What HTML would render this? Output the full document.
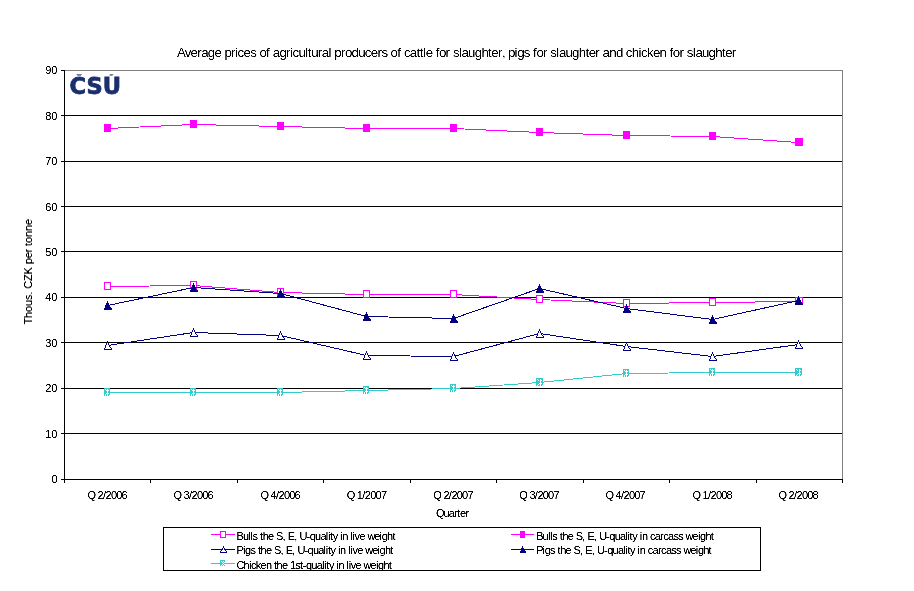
<!DOCTYPE html>
<html lang="en"><head><meta charset="utf-8"><title>Average prices of agricultural producers</title>
<style>html,body{margin:0;padding:0;background:#fff}body{width:914px;height:591px;overflow:hidden}svg{display:block}text{font-family:"Liberation Sans","DejaVu Sans",sans-serif;fill:#000}.s{font-size:11px;filter:url(#th)}.t{font-size:13.3px;filter:url(#tt)}.v{filter:url(#tv)}</style></head><body>
<svg width="914" height="591" viewBox="0 0 914 591">
<rect width="914" height="591" fill="#fff"/>
<defs><filter id="th" x="-5%" y="-5%" width="110%" height="110%" color-interpolation-filters="sRGB"><feComponentTransfer><feFuncA type="linear" slope="2.4" intercept="-0.55"/></feComponentTransfer></filter><filter id="tt" x="-5%" y="-5%" width="110%" height="110%" color-interpolation-filters="sRGB"><feComponentTransfer><feFuncA type="linear" slope="2.2" intercept="-0.6"/></feComponentTransfer></filter><filter id="tv" x="-5%" y="-5%" width="110%" height="110%" color-interpolation-filters="sRGB"><feComponentTransfer><feFuncA type="linear" slope="1.9" intercept="-0.3"/></feComponentTransfer></filter></defs>
<g shape-rendering="crispEdges" fill="none" stroke-width="1">
<path d="M64 70.5H843M842.5 70V480" stroke="#808080"/>
<path d="M64 433.5H842M64 388.5H842M64 342.5H842M64 297.5H842M64 251.5H842M64 206.5H842M64 161.5H842M64 115.5H842" stroke="#000"/>
<path d="M64.5 70V483M61 479.5H843M61 479.5H64M61 433.5H64M61 388.5H64M61 342.5H64M61 297.5H64M61 251.5H64M61 206.5H64M61 161.5H64M61 115.5H64M61 70.5H64M150.5 479V483M237.5 479V483M323.5 479V483M410.5 479V483M496.5 479V483M583.5 479V483M669.5 479V483M756.5 479V483M842.5 479V483" stroke="#000"/>
</g>
<polyline points="107.5,286.5 193.5,285.5 280.5,292.5 366.5,294.5 453.5,294.5 539.5,299.5 626.5,303.5 712.5,302.5 798.5,301.5" fill="none" stroke="#ff00ff" stroke-width="1" shape-rendering="crispEdges"/>
<g shape-rendering="crispEdges">
<rect x="104.5" y="282.5" width="6" height="7" fill="#fff" stroke="#ff00ff" stroke-width="1"/>
<rect x="190.5" y="281.5" width="6" height="7" fill="#fff" stroke="#ff00ff" stroke-width="1"/>
<rect x="277.5" y="288.5" width="6" height="7" fill="#fff" stroke="#ff00ff" stroke-width="1"/>
<rect x="363.5" y="290.5" width="6" height="7" fill="#fff" stroke="#ff00ff" stroke-width="1"/>
<rect x="450.5" y="290.5" width="6" height="7" fill="#fff" stroke="#ff00ff" stroke-width="1"/>
<rect x="536.5" y="295.5" width="6" height="7" fill="#fff" stroke="#ff00ff" stroke-width="1"/>
<rect x="623.5" y="299.5" width="6" height="7" fill="#fff" stroke="#ff00ff" stroke-width="1"/>
<rect x="709.5" y="298.5" width="6" height="7" fill="#fff" stroke="#ff00ff" stroke-width="1"/>
<rect x="795.5" y="297.5" width="7" height="7" fill="#fff" stroke="#ff00ff" stroke-width="1"/>
</g>
<polyline points="107.5,128.5 193.5,124.5 280.5,126.5 366.5,128.5 453.5,128.5 539.5,132.5 626.5,135.5 712.5,136.5 798.5,142.5" fill="none" stroke="#ff00ff" stroke-width="1" shape-rendering="crispEdges"/>
<g shape-rendering="crispEdges">
<rect x="104" y="124" width="7" height="8" fill="#ff00ff"/>
<rect x="190" y="120" width="7" height="8" fill="#ff00ff"/>
<rect x="277" y="122" width="7" height="8" fill="#ff00ff"/>
<rect x="363" y="124" width="7" height="8" fill="#ff00ff"/>
<rect x="450" y="124" width="7" height="8" fill="#ff00ff"/>
<rect x="536" y="128" width="7" height="8" fill="#ff00ff"/>
<rect x="623" y="131" width="7" height="8" fill="#ff00ff"/>
<rect x="709" y="132" width="7" height="8" fill="#ff00ff"/>
<rect x="795" y="138" width="8" height="8" fill="#ff00ff"/>
</g>
<polyline points="107.5,345.5 193.5,332.5 280.5,335.5 366.5,355.5 453.5,356.5 539.5,333.5 626.5,346.5 712.5,356.5 798.5,344.5" fill="none" stroke="#000080" stroke-width="1" shape-rendering="crispEdges"/>
<g shape-rendering="crispEdges">
<path d="M107 341h1v1h-1zM107 342h1v1h-1zM106 343h3v1h-3zM106 344h3v1h-3zM105 345h5v1h-5zM105 346h5v1h-5zM105 347h6v1h-6zM104 348h8v1h-8zM104 349h8v1h-8z" fill="#000080"/><path d="M107 343h1v1h-1zM107 344h1v1h-1zM106 345h3v1h-3zM106 346h3v1h-3zM106 347h4v1h-4zM105 348h6v1h-6z" fill="#fff"/>
<path d="M193 328h1v1h-1zM193 329h1v1h-1zM192 330h3v1h-3zM192 331h3v1h-3zM191 332h5v1h-5zM191 333h5v1h-5zM191 334h6v1h-6zM190 335h8v1h-8zM190 336h8v1h-8z" fill="#000080"/><path d="M193 330h1v1h-1zM193 331h1v1h-1zM192 332h3v1h-3zM192 333h3v1h-3zM192 334h4v1h-4zM191 335h6v1h-6z" fill="#fff"/>
<path d="M280 331h1v1h-1zM280 332h1v1h-1zM279 333h3v1h-3zM279 334h3v1h-3zM278 335h5v1h-5zM278 336h5v1h-5zM278 337h6v1h-6zM277 338h8v1h-8zM277 339h8v1h-8z" fill="#000080"/><path d="M280 333h1v1h-1zM280 334h1v1h-1zM279 335h3v1h-3zM279 336h3v1h-3zM279 337h4v1h-4zM278 338h6v1h-6z" fill="#fff"/>
<path d="M366 351h1v1h-1zM366 352h1v1h-1zM365 353h3v1h-3zM365 354h3v1h-3zM364 355h5v1h-5zM364 356h5v1h-5zM364 357h6v1h-6zM363 358h8v1h-8zM363 359h8v1h-8z" fill="#000080"/><path d="M366 353h1v1h-1zM366 354h1v1h-1zM365 355h3v1h-3zM365 356h3v1h-3zM365 357h4v1h-4zM364 358h6v1h-6z" fill="#fff"/>
<path d="M453 352h1v1h-1zM453 353h1v1h-1zM452 354h3v1h-3zM452 355h3v1h-3zM451 356h5v1h-5zM451 357h5v1h-5zM451 358h6v1h-6zM450 359h8v1h-8zM450 360h8v1h-8z" fill="#000080"/><path d="M453 354h1v1h-1zM453 355h1v1h-1zM452 356h3v1h-3zM452 357h3v1h-3zM452 358h4v1h-4zM451 359h6v1h-6z" fill="#fff"/>
<path d="M539 329h1v1h-1zM539 330h1v1h-1zM538 331h3v1h-3zM538 332h3v1h-3zM537 333h5v1h-5zM537 334h5v1h-5zM537 335h6v1h-6zM536 336h8v1h-8zM536 337h8v1h-8z" fill="#000080"/><path d="M539 331h1v1h-1zM539 332h1v1h-1zM538 333h3v1h-3zM538 334h3v1h-3zM538 335h4v1h-4zM537 336h6v1h-6z" fill="#fff"/>
<path d="M626 342h1v1h-1zM626 343h1v1h-1zM625 344h3v1h-3zM625 345h3v1h-3zM624 346h5v1h-5zM624 347h5v1h-5zM624 348h6v1h-6zM623 349h8v1h-8zM623 350h8v1h-8z" fill="#000080"/><path d="M626 344h1v1h-1zM626 345h1v1h-1zM625 346h3v1h-3zM625 347h3v1h-3zM625 348h4v1h-4zM624 349h6v1h-6z" fill="#fff"/>
<path d="M712 352h1v1h-1zM712 353h1v1h-1zM711 354h3v1h-3zM711 355h3v1h-3zM710 356h5v1h-5zM710 357h5v1h-5zM710 358h6v1h-6zM709 359h8v1h-8zM709 360h8v1h-8z" fill="#000080"/><path d="M712 354h1v1h-1zM712 355h1v1h-1zM711 356h3v1h-3zM711 357h3v1h-3zM711 358h4v1h-4zM710 359h6v1h-6z" fill="#fff"/>
<path d="M798 340h1v1h-1zM798 341h1v1h-1zM797 342h3v1h-3zM797 343h3v1h-3zM796 344h5v1h-5zM796 345h5v1h-5zM796 346h6v1h-6zM795 347h8v1h-8zM795 348h8v1h-8z" fill="#000080"/><path d="M798 342h1v1h-1zM798 343h1v1h-1zM797 344h3v1h-3zM797 345h3v1h-3zM797 346h4v1h-4zM796 347h6v1h-6z" fill="#fff"/>
</g>
<polyline points="107.5,305.5 193.5,287.5 280.5,293.5 366.5,316.5 453.5,318.5 539.5,288.5 626.5,308.5 712.5,319.5 798.5,300.5" fill="none" stroke="#000080" stroke-width="1" shape-rendering="crispEdges"/>
<g shape-rendering="crispEdges">
<path d="M107 301h1v1h-1zM107 302h1v1h-1zM106 303h3v1h-3zM106 304h3v1h-3zM105 305h5v1h-5zM105 306h5v1h-5zM105 307h6v1h-6zM104 308h8v1h-8zM104 309h8v1h-8z" fill="#000080"/>
<path d="M193 283h1v1h-1zM193 284h1v1h-1zM192 285h3v1h-3zM192 286h3v1h-3zM191 287h5v1h-5zM191 288h5v1h-5zM191 289h6v1h-6zM190 290h8v1h-8zM190 291h8v1h-8z" fill="#000080"/>
<path d="M280 289h1v1h-1zM280 290h1v1h-1zM279 291h3v1h-3zM279 292h3v1h-3zM278 293h5v1h-5zM278 294h5v1h-5zM278 295h6v1h-6zM277 296h8v1h-8zM277 297h8v1h-8z" fill="#000080"/>
<path d="M366 312h1v1h-1zM366 313h1v1h-1zM365 314h3v1h-3zM365 315h3v1h-3zM364 316h5v1h-5zM364 317h5v1h-5zM364 318h6v1h-6zM363 319h8v1h-8zM363 320h8v1h-8z" fill="#000080"/>
<path d="M453 314h1v1h-1zM453 315h1v1h-1zM452 316h3v1h-3zM452 317h3v1h-3zM451 318h5v1h-5zM451 319h5v1h-5zM451 320h6v1h-6zM450 321h8v1h-8zM450 322h8v1h-8z" fill="#000080"/>
<path d="M539 284h1v1h-1zM539 285h1v1h-1zM538 286h3v1h-3zM538 287h3v1h-3zM537 288h5v1h-5zM537 289h5v1h-5zM537 290h6v1h-6zM536 291h8v1h-8zM536 292h8v1h-8z" fill="#000080"/>
<path d="M626 304h1v1h-1zM626 305h1v1h-1zM625 306h3v1h-3zM625 307h3v1h-3zM624 308h5v1h-5zM624 309h5v1h-5zM624 310h6v1h-6zM623 311h8v1h-8zM623 312h8v1h-8z" fill="#000080"/>
<path d="M712 315h1v1h-1zM712 316h1v1h-1zM711 317h3v1h-3zM711 318h3v1h-3zM710 319h5v1h-5zM710 320h5v1h-5zM710 321h6v1h-6zM709 322h8v1h-8zM709 323h8v1h-8z" fill="#000080"/>
<path d="M798 296h1v1h-1zM798 297h1v1h-1zM797 298h3v1h-3zM797 299h3v1h-3zM796 300h5v1h-5zM796 301h5v1h-5zM796 302h6v1h-6zM795 303h8v1h-8zM795 304h8v1h-8z" fill="#000080"/>
</g>
<polyline points="107.5,392.5 193.5,392.5 280.5,392.5 366.5,390.5 453.5,388.5 539.5,382.5 626.5,373.5 712.5,372.5 798.5,372.5" fill="none" stroke="#33cccc" stroke-width="1" shape-rendering="crispEdges"/>
<g shape-rendering="crispEdges">
<rect x="104" y="388" width="6" height="8" fill="#33cccc"/><path d="M105 389h1v1h-1zM107 389h1v1h-1zM106 390h1v1h-1zM107 390h1v1h-1zM108 390h1v1h-1zM107 391h1v1h-1zM107 392h1v1h-1zM106 393h1v1h-1zM107 393h1v1h-1zM108 393h1v1h-1zM105 394h1v1h-1zM107 394h1v1h-1zM105 395h1v1h-1zM107 395h1v1h-1zM109 395h1v1h-1z" fill="#fff"/>
<rect x="190" y="388" width="6" height="8" fill="#33cccc"/><path d="M191 389h1v1h-1zM193 389h1v1h-1zM192 390h1v1h-1zM193 390h1v1h-1zM194 390h1v1h-1zM193 391h1v1h-1zM193 392h1v1h-1zM192 393h1v1h-1zM193 393h1v1h-1zM194 393h1v1h-1zM191 394h1v1h-1zM193 394h1v1h-1zM191 395h1v1h-1zM193 395h1v1h-1zM195 395h1v1h-1z" fill="#fff"/>
<rect x="277" y="388" width="6" height="8" fill="#33cccc"/><path d="M278 389h1v1h-1zM280 389h1v1h-1zM279 390h1v1h-1zM280 390h1v1h-1zM281 390h1v1h-1zM280 391h1v1h-1zM280 392h1v1h-1zM279 393h1v1h-1zM280 393h1v1h-1zM281 393h1v1h-1zM278 394h1v1h-1zM280 394h1v1h-1zM278 395h1v1h-1zM280 395h1v1h-1zM282 395h1v1h-1z" fill="#fff"/>
<rect x="363" y="386" width="6" height="8" fill="#33cccc"/><path d="M364 387h1v1h-1zM366 387h1v1h-1zM365 388h1v1h-1zM366 388h1v1h-1zM367 388h1v1h-1zM366 389h1v1h-1zM366 390h1v1h-1zM365 391h1v1h-1zM366 391h1v1h-1zM367 391h1v1h-1zM364 392h1v1h-1zM366 392h1v1h-1zM364 393h1v1h-1zM366 393h1v1h-1zM368 393h1v1h-1z" fill="#fff"/>
<rect x="450" y="384" width="6" height="8" fill="#33cccc"/><path d="M451 385h1v1h-1zM453 385h1v1h-1zM452 386h1v1h-1zM453 386h1v1h-1zM454 386h1v1h-1zM453 387h1v1h-1zM453 388h1v1h-1zM452 389h1v1h-1zM453 389h1v1h-1zM454 389h1v1h-1zM451 390h1v1h-1zM453 390h1v1h-1zM451 391h1v1h-1zM453 391h1v1h-1zM455 391h1v1h-1z" fill="#fff"/>
<rect x="536" y="378" width="7" height="8" fill="#33cccc"/><path d="M537 379h1v1h-1zM540 379h1v1h-1zM538 380h1v1h-1zM540 380h1v1h-1zM541 380h1v1h-1zM540 381h1v1h-1zM540 382h1v1h-1zM539 383h1v1h-1zM540 383h1v1h-1zM541 383h1v1h-1zM538 384h1v1h-1zM540 384h1v1h-1zM537 385h1v1h-1zM540 385h1v1h-1zM542 385h1v1h-1z" fill="#fff"/>
<rect x="623" y="369" width="6" height="8" fill="#33cccc"/><path d="M624 370h1v1h-1zM626 370h1v1h-1zM625 371h1v1h-1zM626 371h1v1h-1zM627 371h1v1h-1zM626 372h1v1h-1zM626 373h1v1h-1zM625 374h1v1h-1zM626 374h1v1h-1zM627 374h1v1h-1zM624 375h1v1h-1zM626 375h1v1h-1zM624 376h1v1h-1zM626 376h1v1h-1zM628 376h1v1h-1z" fill="#fff"/>
<rect x="709" y="368" width="6" height="8" fill="#33cccc"/><path d="M710 369h1v1h-1zM712 369h1v1h-1zM711 370h1v1h-1zM712 370h1v1h-1zM713 370h1v1h-1zM712 371h1v1h-1zM712 372h1v1h-1zM711 373h1v1h-1zM712 373h1v1h-1zM713 373h1v1h-1zM710 374h1v1h-1zM712 374h1v1h-1zM710 375h1v1h-1zM712 375h1v1h-1zM714 375h1v1h-1z" fill="#fff"/>
<rect x="795" y="368" width="7" height="8" fill="#33cccc"/><path d="M796 369h1v1h-1zM799 369h1v1h-1zM797 370h1v1h-1zM799 370h1v1h-1zM800 370h1v1h-1zM799 371h1v1h-1zM799 372h1v1h-1zM798 373h1v1h-1zM799 373h1v1h-1zM800 373h1v1h-1zM797 374h1v1h-1zM799 374h1v1h-1zM796 375h1v1h-1zM799 375h1v1h-1zM801 375h1v1h-1z" fill="#fff"/>
</g>
<clipPath id="lc"><rect x="66" y="74.6" width="60" height="22"/></clipPath>
<text clip-path="url(#lc)" x="69.5" y="93.7" textLength="51.5" lengthAdjust="spacingAndGlyphs" style="font-family:'DejaVu Sans','Liberation Sans',sans-serif;font-weight:bold;font-size:23px;fill:#1b2f6e;stroke:#1b2f6e;stroke-width:.8px">ČSÚ</text>
<text class="t" y="57" x="176.9 184.8 190.6 197.2 201.2 207.8 214.4 221.1 224.4 231.0 235.0 237.6 243.6 250.2 256.2 259.5 266.1 269.4 272.7 279.4 286.0 290.0 292.6 298.6 305.2 307.8 311.2 317.8 321.7 328.4 331.0 334.3 341.0 344.9 351.6 358.2 364.8 370.8 377.4 381.4 387.3 390.6 397.3 400.6 403.9 409.8 416.5 419.8 423.1 425.7 432.4 435.7 439.0 445.6 449.6 452.9 458.9 461.5 468.1 474.8 481.4 488.0 491.3 498.0 501.9 504.6 507.9 514.5 517.2 523.8 529.8 533.1 536.4 543.0 547.0 550.3 556.2 558.9 565.5 572.1 578.8 585.4 588.7 595.3 599.3 602.6 609.2 615.9 622.5 625.8 631.8 638.4 641.0 647.0 653.0 659.6 666.2 669.5 672.8 679.5 683.4 686.7 692.7 695.4 702.0 708.6 715.2 721.9 725.2 731.8">Average prices of agricultural producers of cattle for slaughter, pigs for slaughter and chicken for slaughter</text>
<text class="s" x="57.5" y="482.5" text-anchor="end">0</text>
<text class="s" x="57.5" y="437.5" text-anchor="end">10</text>
<text class="s" x="57.5" y="391.5" text-anchor="end">20</text>
<text class="s" x="57.5" y="346.5" text-anchor="end">30</text>
<text class="s" x="57.5" y="300.5" text-anchor="end">40</text>
<text class="s" x="57.5" y="255.5" text-anchor="end">50</text>
<text class="s" x="57.5" y="210.5" text-anchor="end">60</text>
<text class="s" x="57.5" y="164.5" text-anchor="end">70</text>
<text class="s" x="57.5" y="119.5" text-anchor="end">80</text>
<text class="s" x="57.5" y="73.5" text-anchor="end">90</text>
<text class="s v" transform="translate(32 324.5) rotate(-90)" textLength="105.5" lengthAdjust="spacing">Thous. CZK per tonne</text>
<text class="s" y="499" x="87.4 94.9 97.5 102.9 105.5 110.9 116.2 121.6">Q 2/2006</text>
<text class="s" y="499" x="173.4 180.9 183.5 188.9 191.5 196.9 202.2 207.6">Q 3/2006</text>
<text class="s" y="499" x="260.4 267.9 270.5 275.9 278.5 283.9 289.2 294.6">Q 4/2006</text>
<text class="s" y="499" x="346.7 354.2 356.8 362.2 364.8 370.2 375.5 380.9">Q 1/2007</text>
<text class="s" y="499" x="433.3 440.8 443.4 448.8 451.4 456.8 462.1 467.5">Q 2/2007</text>
<text class="s" y="499" x="519.3 526.8 529.4 534.8 537.4 542.8 548.1 553.5">Q 3/2007</text>
<text class="s" y="499" x="605.4 612.9 615.5 620.9 623.5 628.9 634.2 639.6">Q 4/2007</text>
<text class="s" y="499" x="692.4 699.9 702.5 707.9 710.5 715.9 721.2 726.6">Q 1/2008</text>
<text class="s" y="499" x="778.4 785.9 788.5 793.9 796.5 801.9 807.2 812.6">Q 2/2008</text>
<text class="s" y="517" x="436.0 443.5 448.8 454.2 457.3 460.0 465.4">Quarter</text>
<rect x="163.5" y="527.5" width="597" height="43" fill="#fff" stroke="#000" stroke-width="1" shape-rendering="crispEdges"/>
<path d="M211 534.5H235" stroke="#ff00ff" stroke-width="1" shape-rendering="crispEdges"/>
<g shape-rendering="crispEdges"><rect x="220.5" y="531.5" width="5" height="6" fill="#fff" stroke="#ff00ff" stroke-width="1"/></g>
<path d="M511 534.5H534" stroke="#ff00ff" stroke-width="1" shape-rendering="crispEdges"/>
<g shape-rendering="crispEdges"><rect x="520" y="531" width="5" height="7" fill="#ff00ff"/></g>
<path d="M211 549.5H235" stroke="#000080" stroke-width="1" shape-rendering="crispEdges"/>
<g shape-rendering="crispEdges"><path d="M223 546h1v1h-1zM223 547h1v1h-1zM222 548h3v1h-3zM222 549h3v1h-3zM221 550h5v1h-5zM220 551h7v1h-7zM220 552h7v1h-7z" fill="#000080"/><path d="M223 548h1v1h-1zM223 549h1v1h-1zM222 550h3v1h-3zM221 551h5v1h-5z" fill="#fff"/></g>
<path d="M511 549.5H534" stroke="#000080" stroke-width="1" shape-rendering="crispEdges"/>
<g shape-rendering="crispEdges"><path d="M522 546h1v1h-1zM522 547h1v1h-1zM521 548h3v1h-3zM521 549h3v1h-3zM521 550h4v1h-4zM520 551h6v1h-6zM520 552h6v1h-6z" fill="#000080"/></g>
<path d="M211 563.5H235" stroke="#33cccc" stroke-width="1" shape-rendering="crispEdges"/>
<g shape-rendering="crispEdges"><rect x="220" y="560" width="5" height="6" fill="#33cccc"/><path d="M221 561h1v1h-1zM223 561h1v1h-1zM222 562h1v1h-1zM224 562h1v1h-1zM223 563h1v1h-1zM222 564h1v1h-1zM224 564h1v1h-1zM221 565h1v1h-1zM223 565h1v1h-1z" fill="#fff"/></g>
<text class="s" y="539.5" x="236.6 243.0 248.3 250.5 252.6 257.4 260.1 262.8 268.1 273.4 276.1 282.5 285.2 287.8 294.2 296.9 299.6 306.5 309.7 315.1 320.4 325.7 327.9 330.0 332.7 337.5 340.1 342.3 347.6 350.3 352.4 354.6 359.4 364.7 367.4 374.3 379.6 381.8 387.1 392.5">Bulls the S, E, U-quality in live weight</text>
<text class="s" y="539.5" x="536.2 542.6 547.9 550.1 552.2 557.0 559.7 562.4 567.7 573.0 575.7 582.1 584.8 587.4 593.8 596.5 599.2 606.1 609.3 614.7 620.0 625.3 627.5 629.6 632.3 637.1 639.7 641.9 647.2 649.9 654.7 660.0 663.2 668.0 673.4 678.2 683.0 685.6 692.6 697.9 700.0 705.4 710.7">Bulls the S, E, U-quality in carcass weight</text>
<text class="s" y="553.7" x="236.6 243.0 245.1 250.5 255.3 257.9 260.6 266.0 271.3 274.0 280.4 283.0 285.7 292.1 294.8 297.4 304.4 307.6 312.9 318.3 323.6 325.7 327.9 330.5 335.3 338.0 340.1 345.5 348.2 350.3 352.4 357.2 362.6 365.2 372.2 377.5 379.6 385.0 390.3">Pigs the S, E, U-quality in live weight</text>
<text class="s" y="553.7" x="536.2 542.6 544.7 550.1 554.9 557.5 560.2 565.6 570.9 573.6 580.0 582.6 585.3 591.7 594.4 597.0 604.0 607.2 612.5 617.9 623.2 625.3 627.5 630.1 634.9 637.6 639.7 645.1 647.8 652.6 657.9 661.1 665.9 671.2 676.0 680.8 683.5 690.4 695.8 697.9 703.3 708.6">Pigs the S, E, U-quality in carcass weight</text>
<clipPath id="gc"><rect x="164" y="528" width="596" height="42"/></clipPath><g clip-path="url(#gc)">
<text class="s" y="568.7" x="236.6 243.5 248.9 251.0 255.8 260.6 266.0 271.3 274.0 276.6 282.0 287.3 290.0 295.3 300.1 302.8 306.0 311.3 316.7 322.0 324.1 326.3 328.9 333.7 336.4 338.5 343.9 346.6 348.7 350.8 355.6 361.0 363.6 370.6 375.9 378.0 383.4 388.7">Chicken the 1st-quality in live weight</text>
</g>
</svg></body></html>
